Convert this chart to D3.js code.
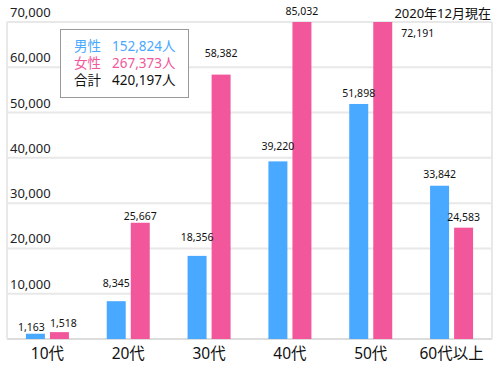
<!DOCTYPE html>
<html>
<head>
<meta charset="utf-8">
<script src="https://cdn.jsdelivr.net/npm/d3@7"></script>
<style>
  body { margin: 0; background: #fff; }
  text { font-family: "Noto Sans", "Noto Sans CJK JP", sans-serif; }
</style>
</head>
<body>
<svg id="mysvg" width="500" height="370"></svg>
<script>
// data
let categories = ["10代", "20代", "30代", "40代", "50代", "60代以上"];
let seriesNames = ["男性", "女性"];
let maleValues = [1163, 8345, 18356, 39220, 51898, 33842];
let femaleValues = [1518, 25667, 58382, 85032, 72191, 24583];
let yTicks = [0, 10000, 20000, 30000, 40000, 50000, 60000, 70000];
let asOfText = "2020年12月現在";

let colors = ["#49a8ff", "#f2579c"];

// label nudges, [dx, gap above bar top]
let labelNudge = [
    [[-4, 3], [0, 14], [0, 15], [0, 11], [0, 7], [0, 8]],
    [[4, 5], [0, 3], [0, 18], [0, 7], [35, -15], [0, 7]]
];

let svg = d3.select('#mysvg');
let plotLeft = 7, plotRight = 492, plotTop = 22, plotBottom = 339;

let x0 = d3.scaleBand().domain(categories).range([plotLeft, plotRight]);
let x1 = d3.scaleBand().domain([0, 1]).range([-21.5, 21.5]).paddingInner(0.21);
let y = d3.scaleLinear().domain([0, 70000]).range([plotBottom, plotTop]);

// grid
svg.append("g").selectAll("line")
    .data(yTicks)
    .enter().append("line")
    .attr("x1", plotLeft).attr("x2", plotRight)
    .attr("y1", d => y(d)).attr("y2", d => y(d))
    .attr("stroke", d => d == 0 ? "#dcdcdc" : "#e8e8e8")
    .attr("stroke-width", 2);

svg.append("line")
    .attr("x1", plotLeft).attr("x2", plotLeft).attr("y1", plotTop).attr("y2", plotBottom)
    .attr("stroke", "#e8e8e8").attr("stroke-width", 2);
svg.append("line")
    .attr("x1", plotRight).attr("x2", plotRight).attr("y1", plotTop).attr("y2", plotBottom)
    .attr("stroke", "#e8e8e8").attr("stroke-width", 2);

svg.append("g").selectAll("text")
    .data(yTicks.filter(d => d > 0))
    .enter().append("text")
    .attr("x", 10)
    .attr("y", d => y(d) - 5)
    .attr("font-size", 13)
    .attr("fill", "#222")
    .text(d => d3.format(",")(d));

// clip for bars that overflow
svg.append("clipPath").attr("id", "plotclip")
    .append("rect").attr("x", 0).attr("y", plotTop).attr("width", 500).attr("height", plotBottom - plotTop);

let series = [maleValues, femaleValues];
let barData = [];
series.forEach(function(vals, s) {
    vals.forEach(function(v, i) {
        barData.push({cat: categories[i], s: s, value: v, i: i});
    });
});

let bw = x1.bandwidth();
function barX(d) { return x0(d.cat) + x0.bandwidth() / 2 + x1(d.s); }

svg.append("g").attr("clip-path", "url(#plotclip)")
    .selectAll("rect")
    .data(barData)
    .enter().append("rect")
    .attr("x", barX)
    .attr("y", d => y(d.value))
    .attr("width", bw)
    .attr("height", d => plotBottom - y(d.value))
    .attr("fill", d => colors[d.s]);

// value labels
svg.append("g").selectAll("text")
    .data(barData)
    .enter().append("text")
    .attr("x", d => barX(d) + bw / 2 + labelNudge[d.s][d.i][0])
    .attr("y", d => Math.max(y(d.value), plotTop) - labelNudge[d.s][d.i][1])
    .attr("text-anchor", "middle")
    .attr("font-size", 10.5)
    .attr("fill", "#111")
    .text(d => d3.format(",")(d.value));

// category labels
svg.append("g").selectAll("text")
    .data(categories)
    .enter().append("text")
    .attr("x", d => x0(d) + x0.bandwidth() / 2)
    .attr("y", 359)
    .attr("text-anchor", "middle")
    .attr("font-size", 15.5)
    .attr("fill", "#111")
    .text(d => d);

// as-of note
svg.append("text")
    .attr("x", 491).attr("y", 18)
    .attr("text-anchor", "end")
    .attr("font-size", 13)
    .attr("fill", "#111")
    .text(asOfText);

// legend
let totals = [d3.sum(maleValues), d3.sum(femaleValues)];
let legendData = [
    {name: seriesNames[0], total: totals[0], color: colors[0]},
    {name: seriesNames[1], total: totals[1], color: colors[1]},
    {name: "合計", total: totals[0] + totals[1], color: "#111"}
];

svg.append("rect")
    .attr("x", 60.5).attr("y", 29.5).attr("width", 128).attr("height", 68)
    .attr("fill", "white").attr("stroke", "#999");

let leg = svg.append("g").selectAll("g")
    .data(legendData)
    .enter().append("g")
    .attr("transform", (d, i) => "translate(0," + (51 + i * 17) + ")");
leg.append("text")
    .attr("x", 74).attr("font-size", 13.5)
    .attr("fill", d => d.color)
    .text(d => d.name);
leg.append("text")
    .attr("x", 112).attr("font-size", 13.5)
    .attr("fill", d => d.color)
    .text(d => d3.format(",")(d.total) + "人");
</script>
</body>
</html>
